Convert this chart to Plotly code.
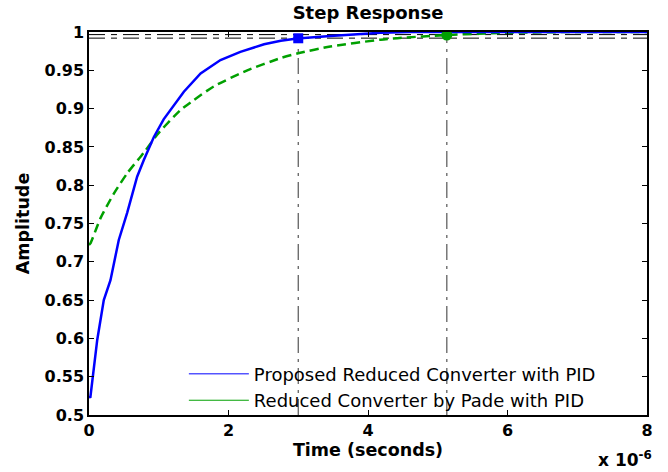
import plotly.graph_objects as go

# Time axis in microseconds (plotted as seconds with x 10^-6 multiplier)
t_prop = [0.0, 0.02, 0.118, 0.212, 0.308, 0.427, 0.547, 0.69, 0.786, 0.93, 1.07,
          1.26, 1.36, 1.6, 1.885, 2.17, 2.51, 2.75, 2.985, 3.46, 4.18, 4.6, 5.5, 6.5, 8.0]
y_prop = [0.523, 0.5235, 0.598, 0.650, 0.676, 0.7285, 0.764, 0.811, 0.833, 0.863, 0.886,
          0.909, 0.922, 0.946, 0.9634, 0.974, 0.984, 0.9887, 0.9915, 0.9948, 0.999, 1.0, 1.0, 1.0, 1.0]

t_pade = [0.0, 0.02, 0.165, 0.356, 0.547, 0.786, 0.977, 1.216, 1.31, 1.5, 1.79,
          2.27, 2.75, 2.985, 3.46, 4.18, 4.42, 5.13, 6.0, 7.0, 8.0]
y_pade = [0.722, 0.724, 0.757, 0.789, 0.8155, 0.8425, 0.866, 0.8895, 0.898, 0.911, 0.929,
          0.950, 0.966, 0.972, 0.981, 0.990, 0.992, 0.9961, 0.999, 1.0, 1.0]

settle_t = [3.0, 5.13]          # settling times (us)
settle_y = [0.9918, 0.9961]     # response at settling time
band_levels = [0.992, 0.9966]   # settling band lines

x_ticks = [0, 2, 4, 6, 8]
y_ticks = [0.5, 0.55, 0.6, 0.65, 0.7, 0.75, 0.8, 0.85, 0.9, 0.95, 1.0]
y_labels = ["0.5", "0.55", "0.6", "0.65", "0.7", "0.75", "0.8", "0.85", "0.9", "0.95", "1"]

scale = 1e-6
blue = "#0000ff"
green = "#00a000"
FAMILY = "DejaVu Sans, Verdana, sans-serif"

fig = go.Figure()

fig.add_trace(go.Scatter(x=[t * scale for t in t_pade], y=y_pade, mode="lines",
                         line=dict(color=green, width=2.5, dash="9px,5px", shape="spline", smoothing=0.6),
                         showlegend=False, hoverinfo="skip"))
fig.add_trace(go.Scatter(x=[t * scale for t in t_prop], y=y_prop, mode="lines",
                         line=dict(color=blue, width=2.5),
                         showlegend=False, hoverinfo="skip"))

# settling-time markers
fig.add_trace(go.Scatter(x=[settle_t[0] * scale], y=[settle_y[0]], mode="markers",
                         marker=dict(symbol="square", size=10, color=blue),
                         showlegend=False))
fig.add_trace(go.Scatter(x=[settle_t[1] * scale], y=[settle_y[1]], mode="markers",
                         marker=dict(symbol="circle", size=11, color=green),
                         showlegend=False))

# legend entries (thin solid swatches)
fig.add_trace(go.Scatter(x=[None], y=[None], mode="lines",
                         line=dict(color=blue, width=1),
                         name="Proposed Reduced Converter with PID"))
fig.add_trace(go.Scatter(x=[None], y=[None], mode="lines",
                         line=dict(color=green, width=1),
                         name="Reduced Converter by Pade with PID"))

shapes = []
for lv in band_levels:
    shapes.append(dict(type="line", xref="x", yref="y", x0=0, x1=8 * scale, y0=lv, y1=lv,
                       line=dict(color="black", width=1, dash="16px,6px,6px,6px"), layer="below"))
for ts, ys in zip(settle_t, settle_y):
    shapes.append(dict(type="line", xref="x", yref="y", x0=ts * scale, x1=ts * scale,
                       y0=0.5, y1=ys, line=dict(color="#555555", width=1.2, dash="16px,6px,3px,6px"),
                       layer="below"))
fig.update_layout(shapes=shapes)

font_b = dict(family=FAMILY, size=16, color="black")
font_t = dict(family=FAMILY, size=17.5, color="black")

fig.update_layout(
    width=668, height=472,
    margin=dict(l=89, r=21, t=32, b=57),
    paper_bgcolor="white", plot_bgcolor="white",
    title=dict(text="<b>Step Response</b>", x=0.5, xanchor="center", xref="paper",
               y=0.99, yref="container", yanchor="top", pad=dict(t=2),
               font=dict(family=FAMILY, size=18, color="black")),
    xaxis=dict(range=[0, 8 * scale], tickvals=[v * scale for v in x_ticks],
               ticktext=[f"<b>{v}</b>" for v in x_ticks],
               ticks="inside", ticklen=5, tickcolor="black", mirror="allticks",
               showline=True, linecolor="black", linewidth=1.5, showgrid=False, zeroline=False,
               tickfont=font_b,
               title=dict(text="<b>Time (seconds)</b>", font=font_t, standoff=4)),
    yaxis=dict(range=[0.5, 1.0], tickvals=y_ticks, ticktext=[f"<b>{s}</b>" for s in y_labels],
               ticks="inside", ticklen=5, tickcolor="black", mirror="allticks",
               showline=True, linecolor="black", linewidth=1.5, showgrid=False, zeroline=False,
               tickfont=font_b,
               title=dict(text="<b>Amplitude</b>", font=font_t, standoff=10)),
    legend=dict(x=0.17, y=0.155, xanchor="left", yanchor="top", bgcolor="rgba(0,0,0,0)",
                font=dict(family=FAMILY, size=18, color="black"),
                tracegroupgap=0, itemwidth=60),
    annotations=[dict(text="<b>x 10<sup>-6</sup></b>", xref="paper", yref="paper",
                      x=1.012, y=-0.15, xanchor="right", yanchor="bottom", showarrow=False,
                      font=dict(family=FAMILY, size=17, color="black"))],
)

fig.write_html("out.html")
